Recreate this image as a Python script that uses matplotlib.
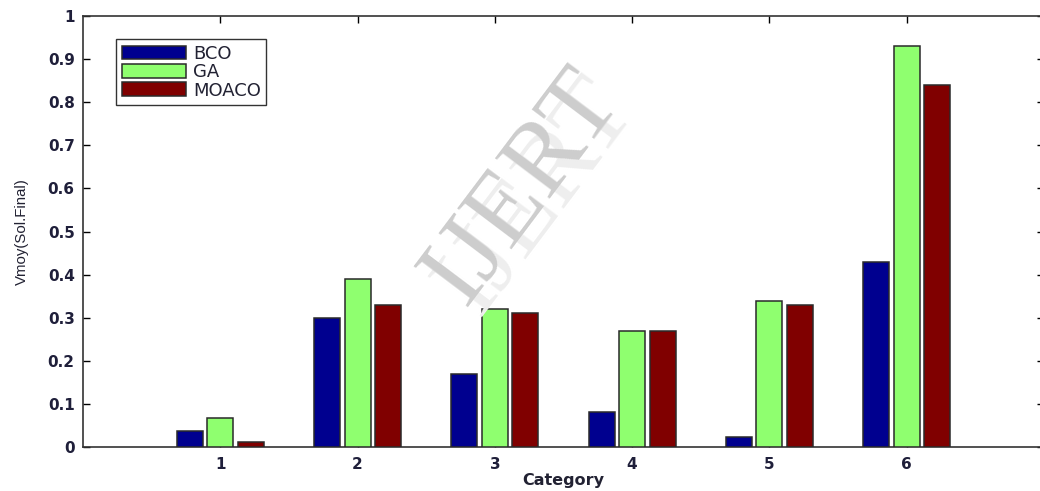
import matplotlib
matplotlib.use("Agg")
import matplotlib.pyplot as plt
import numpy as np

categories = [1, 2, 3, 4, 5, 6]
series_names = ["BCO", "GA", "MOACO"]
bco = [0.038, 0.30, 0.17, 0.081, 0.023, 0.43]
ga = [0.067, 0.39, 0.32, 0.27, 0.34, 0.93]
moaco = [0.011, 0.33, 0.31, 0.27, 0.33, 0.84]
colors = ["#00008F", "#8FFF6F", "#800000"]
yticks = [0, 0.1, 0.2, 0.3, 0.4, 0.5, 0.6, 0.7, 0.8, 0.9, 1]
ytick_labels = ["0", "0.1", "0.2", "0.3", "0.4", "0.5", "0.6", "0.7", "0.8", "0.9", "1"]

plt.rcParams['font.family'] = ['DejaVu Sans']

fig = plt.figure(figsize=(10.4, 4.91), dpi=100)
ax = fig.add_axes([0.0798, 0.0896, 0.924, 0.8775])

x = np.array(categories, dtype=float)
offset = 0.222
width = 0.19
for i, (vals, c, name) in enumerate(zip([bco, ga, moaco], colors, series_names)):
    ax.bar(x + (i - 1) * offset, vals, width=width, color=c, edgecolor="#2a2a2a",
           linewidth=1.1, label=name, zorder=3)

ax.set_xlim(0, 7)
ax.set_ylim(0, 1)
ax.set_xticks(categories)
ax.set_xticklabels([str(c) for c in categories])
ax.set_yticks(yticks)
ax.set_yticklabels(ytick_labels)
ax.tick_params(direction="in", top=True, right=True, length=5, width=1,
               labelsize=11, labelcolor="#1f1f3a", pad=6)
for lab in ax.get_xticklabels() + ax.get_yticklabels():
    lab.set_fontweight("bold")
ax.tick_params(axis="x", pad=7)
for s in ax.spines.values():
    s.set_linewidth(1.2)
    s.set_color("#333333")

ax.set_xlabel("Category", fontsize=11.5, fontweight="bold", color="#222233", labelpad=1)
ax.set_ylabel("Vmoy(Sol.Final)", fontsize=10.8, family=["Liberation Sans"], color="#222233")
ax.yaxis.set_label_coords(-0.056, 0.5)

leg = ax.legend(loc="upper left", bbox_to_anchor=(0.0345, 0.946), fontsize=13,
                handlelength=3.55, handleheight=0.8, handletextpad=0.4,
                borderpad=0.3, labelspacing=0.02, frameon=True, fancybox=False,
                edgecolor="black", borderaxespad=0)
leg.get_frame().set_linewidth(1.0)
for t in leg.get_texts():
    t.set_color("#222233")

# watermark (with lighter offset shadow)
fig.text(0.517, 0.597, "IJERT", fontsize=74, family=["Liberation Serif"],
         rotation=53, color="#eeeeee", ha="center", va="center", zorder=9)
fig.text(0.503, 0.617, "IJERT", fontsize=74, family=["Liberation Serif"],
         rotation=53, color="#cdcdcd", ha="center", va="center", zorder=10)

fig.savefig("out.png", dpi=100)
